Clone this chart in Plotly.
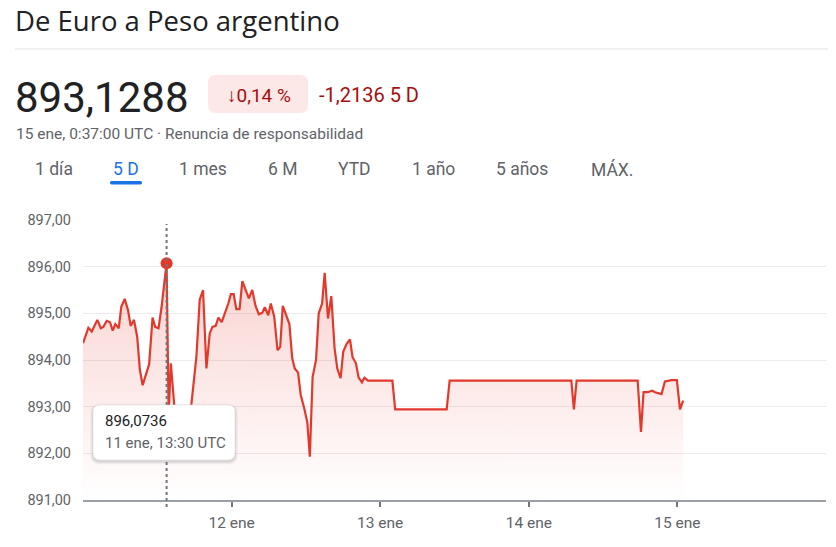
import plotly.graph_objects as go

# ---------------- data ----------------
times = [
    "2024-01-11 00:00", "2024-01-11 00:52", "2024-01-11 01:25", "2024-01-11 02:19", "2024-01-11 02:52",
    "2024-01-11 03:17", "2024-01-11 03:50", "2024-01-11 04:22", "2024-01-11 04:48", "2024-01-11 05:13",
    "2024-01-11 05:46", "2024-01-11 06:11", "2024-01-11 06:44", "2024-01-11 07:16", "2024-01-11 07:42",
    "2024-01-11 08:14", "2024-01-11 08:45", "2024-01-11 09:11", "2024-01-11 09:38", "2024-01-11 10:10",
    "2024-01-11 10:41", "2024-01-11 11:14", "2024-01-11 11:39", "2024-01-11 12:12", "2024-01-11 12:41",
    "2024-01-11 13:30", "2024-01-11 13:50", "2024-01-11 14:11", "2024-01-11 15:00", "2024-01-11 15:38",
    "2024-01-11 16:26", "2024-01-11 17:05", "2024-01-11 17:31", "2024-01-11 18:19", "2024-01-11 18:51",
    "2024-01-11 19:23", "2024-01-11 19:56", "2024-01-11 20:28", "2024-01-11 20:54", "2024-01-11 21:26",
    "2024-01-11 21:52", "2024-01-11 22:24", "2024-01-11 22:56", "2024-01-11 23:28", "2024-01-11 23:53",
    "2024-01-12 00:20", "2024-01-12 00:46", "2024-01-12 01:17", "2024-01-12 01:44", "2024-01-12 02:16",
    "2024-01-12 02:47", "2024-01-12 03:20", "2024-01-12 03:52", "2024-01-12 04:24", "2024-01-12 04:57",
    "2024-01-12 05:22", "2024-01-12 05:55", "2024-01-12 06:20", "2024-01-12 06:53", "2024-01-12 07:25",
    "2024-01-12 07:51", "2024-01-12 08:16", "2024-01-12 08:49", "2024-01-12 09:20", "2024-01-12 09:47",
    "2024-01-12 10:12", "2024-01-12 10:44", "2024-01-12 11:10", "2024-01-12 11:43", "2024-01-12 12:14",
    "2024-01-12 12:38", "2024-01-12 13:05", "2024-01-12 13:38", "2024-01-12 14:04", "2024-01-12 14:37",
    "2024-01-12 15:02", "2024-01-12 15:34", "2024-01-12 16:06", "2024-01-12 16:38", "2024-01-12 17:04",
    "2024-01-12 17:36", "2024-01-12 18:02", "2024-01-12 18:34", "2024-01-12 19:07", "2024-01-12 19:32",
    "2024-01-12 20:05", "2024-01-12 20:30", "2024-01-12 21:03", "2024-01-12 21:28", "2024-01-12 22:01",
    "2024-01-13 01:58", "2024-01-13 02:25", "2024-01-13 10:44", "2024-01-13 11:13", "2024-01-14 06:52",
    "2024-01-14 07:17", "2024-01-14 07:43", "2024-01-14 17:35", "2024-01-14 18:07", "2024-01-14 18:32",
    "2024-01-14 19:11", "2024-01-14 19:56", "2024-01-14 20:23", "2024-01-14 21:26", "2024-01-14 21:59",
    "2024-01-14 23:03", "2024-01-14 23:55", "2024-01-15 00:25", "2024-01-15 00:56",
]
rates = [
    894.36, 894.69, 894.61, 894.86, 894.68,
    894.71, 894.84, 894.81, 894.63, 894.77,
    894.68, 895.14, 895.31, 895.07, 894.73,
    894.86, 894.50, 893.79, 893.46, 893.68,
    893.91, 894.91, 894.71, 894.68, 895.13,
    896.0736, 892.85, 893.93, 892.60, 892.30,
    892.50, 892.70, 893.07, 894.07, 895.29,
    895.50, 893.82, 894.57, 894.71, 894.73,
    894.91, 894.81, 895.00, 895.21, 895.41,
    895.41, 895.09, 895.09, 895.69, 895.50,
    895.32, 895.50, 895.16, 894.98, 895.01,
    895.13, 894.96, 895.21, 894.93, 894.21,
    894.28, 895.16, 894.96, 894.77, 894.04,
    893.82, 893.73, 893.25, 892.97, 892.66,
    891.93, 893.64, 894.00, 895.00, 895.21,
    895.87, 894.89, 895.37, 894.25, 893.82,
    893.61, 894.18, 894.34, 894.44, 894.06,
    893.93, 893.63, 893.52, 893.62, 893.56,
    893.56, 892.94, 892.94, 893.56, 893.56,
    892.94, 893.56, 893.56, 892.46, 893.31,
    893.31, 893.34, 893.31, 893.27, 893.54,
    893.57, 893.57, 892.94, 893.1288,
]
y_ticks = [891, 892, 893, 894, 895, 896, 897]
x_tick_vals = ["2024-01-12", "2024-01-13", "2024-01-14", "2024-01-15"]
x_tick_text = ["12 ene", "13 ene", "14 ene", "15 ene"]
x_range = ["2024-01-11 00:00", "2024-01-16 00:00"]
hover_idx = 25

title = "De Euro a Peso argentino"
price = "893,1288"
pct = "\u21930,14 %"
change = "-1,2136 5 D"
stamp = "15 ene, 0:37:00 UTC \u00b7 Renuncia de responsabilidad"
tabs = ["1 día", "5 D", "1 mes", "6 M", "YTD", "1 año", "5 años", "MÁX."]
tab_x = [54, 126, 203, 282, 354, 433, 522, 612]
tooltip_value = "896,0736"
tooltip_time = "11 ene, 13:30 UTC"

# ---------------- layout helpers ----------------
OFF = 8                      # page body margin of the html page
W, H = 836 - OFF, 547 - OFF
L, R, T, B = 83, 826, 220, 500   # plot area in screenshot pixels
FONT = "Roboto, Arial, sans-serif"
RED = "#e2392c"
GREY = "#5f6368"


def px(x):
    return (x - L) / (R - L)


def py(y):
    return (B - y) / (B - T)


def rrect(x0, y0, x1, y1, r):
    pts = lambda a, b: f"{px(a):.5f},{py(b):.5f}"
    return (f"M {pts(x0 + r, y0)} L {pts(x1 - r, y0)} Q {pts(x1, y0)} {pts(x1, y0 + r)} "
            f"L {pts(x1, y1 - r)} Q {pts(x1, y1)} {pts(x1 - r, y1)} "
            f"L {pts(x0 + r, y1)} Q {pts(x0, y1)} {pts(x0, y1 - r)} "
            f"L {pts(x0, y0 + r)} Q {pts(x0, y0)} {pts(x0 + r, y0)} Z")


annotations = []
shapes = []


def text(x, y, s, size, color, anchor="left", family=FONT):
    annotations.append(dict(x=px(x), y=py(y), xref="paper", yref="paper", text=s,
                            showarrow=False, xanchor=anchor, yanchor="middle",
                            font=dict(size=size, color=color, family=family)))


fig = go.Figure()
fig.add_trace(go.Scatter(
    x=times, y=rates, mode="lines",
    line=dict(color=RED, width=2.2),
    fill="tozeroy",
    fillgradient=dict(type="vertical", start=891, stop=896,
                      colorscale=[[0, "rgba(226,57,44,0.0)"], [1, "rgba(226,57,44,0.22)"]]),
    hoverinfo="skip", showlegend=False,
))

# header
text(13, 20, title, 27.5, "#202124", family="Open Sans, Roboto, sans-serif")
shapes.append(dict(type="line", xref="paper", yref="paper", x0=px(15), x1=px(836),
                   y0=py(49), y1=py(49), line=dict(color="#e3e3e3", width=1)))
text(13, 97, price, 42, "#202124")
shapes.append(dict(type="path", xref="paper", yref="paper", path=rrect(208, 75, 308, 113, 8),
                   fillcolor="#fce8e6", line=dict(width=0)))
text(259, 95, pct, 19, "#a50e0e", anchor="center")
text(317, 95, change, 20, "#a50e0e")
text(14, 134, stamp, 15.5, GREY)
for lbl, tx in zip(tabs, tab_x):
    text(tx, 169, lbl, 17.5, "#1a73e8" if lbl == "5 D" else GREY, anchor="center")
shapes.append(dict(type="path", xref="paper", yref="paper", path=rrect(110, 181, 142, 184.5, 1.5),
                   fillcolor="#1a73e8", line=dict(width=0)))

# hover line, tooltip and point
shapes.append(dict(type="line", xref="x", yref="paper", x0=times[hover_idx], x1=times[hover_idx],
                   y0=py(507), y1=py(224), layer="above",
                   line=dict(color="#70757a", width=2, dash="dot")))
for i, a in enumerate([0.04, 0.06, 0.10]):
    g = 3 - i
    shapes.append(dict(type="path", xref="paper", yref="paper",
                       path=rrect(93 - g, 405 - g + 1.5, 235 + g, 460 + g + 1.5, 7 + g),
                       fillcolor=f"rgba(60,64,67,{a})", line=dict(width=0), layer="above"))
shapes.append(dict(type="path", xref="paper", yref="paper", path=rrect(93, 405, 235, 460, 7),
                   fillcolor="white", line=dict(color="#e0e0e0", width=0.6), layer="above"))
text(103, 421, tooltip_value, 15, "#202124")
text(103, 443, tooltip_time, 15, GREY)
fig.add_trace(go.Scatter(x=[times[hover_idx]], y=[rates[hover_idx]], mode="markers",
                         marker=dict(color=RED, size=12), hoverinfo="skip", showlegend=False))

fig.update_layout(
    width=W, height=H,
    margin=dict(l=L - OFF, r=W + OFF - R, t=T - OFF, b=H + OFF - B, pad=0),
    paper_bgcolor="white", plot_bgcolor="white",
    separators=",.",
    font=dict(family=FONT, color=GREY),
    showlegend=False,
    annotations=annotations, shapes=shapes,
    xaxis=dict(range=x_range, tickmode="array", tickvals=x_tick_vals, ticktext=x_tick_text,
               showgrid=False, zeroline=False, showline=True, linecolor="#9aa0a6", linewidth=1.5,
               ticks="outside", ticklen=5, tickwidth=2, tickcolor="#70757a",
               tickfont=dict(size=15.5, color=GREY, family=FONT), ticklabelstandoff=3,
               fixedrange=True),
    yaxis=dict(range=[891, 897], tickmode="array", tickvals=y_ticks, tickformat=".2f",
               showgrid=True, gridcolor="#ececec", gridwidth=1, zeroline=False, showline=False,
               ticks="", tickfont=dict(size=14.5, color=GREY, family=FONT), ticklabelstandoff=11,
               fixedrange=True),
)

fig.write_html("out.html")
